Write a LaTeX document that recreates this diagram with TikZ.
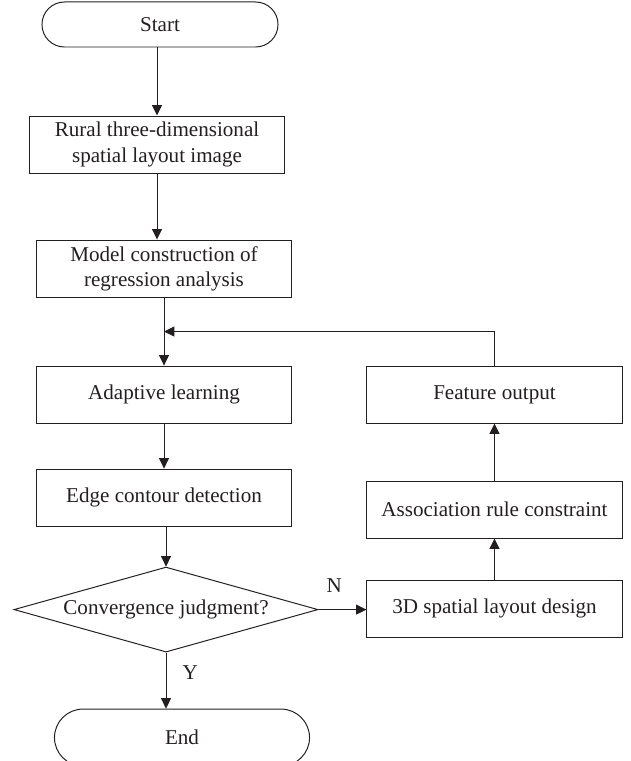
\documentclass[tikz,border=0pt]{standalone}
\usepackage{fontspec}
\setmainfont{Liberation Serif}
\usepackage{tikz}
\usetikzlibrary{
  shapes.geometric, shapes.misc,
  arrows.meta,
  positioning, calc
}
\usepackage{xcolor}
\definecolor{LineDark}{RGB}{35,31,32}
\tikzset{
  basebox/.style={rectangle,draw=LineDark,line width=0.7pt,
    align=center,text=LineDark,font=\fontsize{15}{18}\selectfont,
    inner sep=0pt},
  procbox/.style={basebox,minimum width=6.375cm,minimum height=1.425cm},
  termbox/.style={basebox,rounded rectangle},
  decbox/.style={basebox,diamond,aspect=3.5,
    minimum width=7.6cm,minimum height=2.125cm},
  arrow/.style={-{Triangle[length=0.26cm,width=0.25cm]},
    line width=0.7pt,color=LineDark},
  flaglabel/.style={text=LineDark,font=\fontsize{15}{18}\selectfont,inner sep=0pt}
}

\begin{document}
\begin{tikzpicture}[x=0.025cm,y=-0.025cm]
  \useasboundingbox (0,0) rectangle (630,761);
  % main column
  \node[termbox,minimum width=5.9cm,minimum height=1.125cm] (start) at (160,24.5) {Start};
  \node[procbox,below=1.7cm of start,xshift=-0.075cm] (img) {Rural three-dimensional\\spatial layout image};
  \node[procbox,below=1.65cm of img,xshift=0.175cm] (model) {Model construction of\\regression analysis};
  \node[procbox,below=1.7cm of model] (adapt) {Adaptive learning};
  \node[procbox,below=1.125cm of adapt] (edge) {Edge contour detection};
  \node[decbox,below=1.0cm of edge,xshift=0.05cm] (judge) {Convergence judgment?};
  \node[termbox,minimum width=6.375cm,minimum height=1.425cm,below=1.4cm of judge,xshift=0.4cm] (fin) {End};
  % feedback column
  \node[procbox,right=1.86cm of adapt] (feat) {Feature output};
  \node[procbox,below=1.425cm of feat] (assoc) {Association rule constraint};
  \node[procbox,below=1.025cm of assoc] (layout) {3D spatial layout design};
  \coordinate (join) at ($(model.south)!0.5!(adapt.north)$);

  \draw[arrow] (img.north |- start.south) -- (img.north);
  \draw[arrow] (img.south) -- (img.south |- model.north);
  \foreach \a/\b in {model/adapt,adapt/edge,layout/assoc,assoc/feat}
    \draw[arrow] (\a)--(\b);
  \draw[arrow] (judge.north |- edge.south) -- (judge.north);
  \draw[arrow] (judge.south) -- (judge.south |- fin.north)
    node[flaglabel,pos=0.36,right=0.4cm] (ylab) {Y};
  \draw[arrow] (judge.east) -- (judge.east -| layout.west)
    node[flaglabel,pos=0.33,above=0.42cm] (nlab) {N};
  \draw[arrow] (feat.north) |- (join);
\end{tikzpicture}
\end{document}
